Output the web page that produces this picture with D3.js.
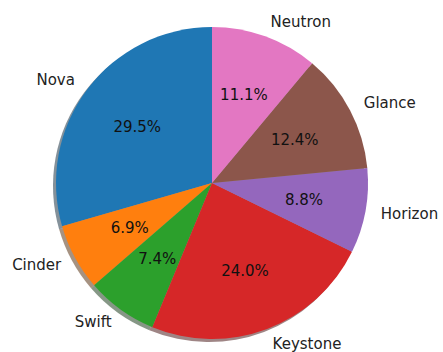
<!DOCTYPE html>
<html>
<head>
<meta charset="utf-8">
<script src="https://cdn.jsdelivr.net/npm/d3@7"></script>
<style>
  html, body { margin: 0; padding: 0; background: #fff; }
  svg { display: block; }
</style>
</head>
<body>
<svg width="443" height="352"></svg>
<script>
const labels = ['Nova', 'Cinder', 'Swift', 'Keystone', 'Horizon', 'Glance', 'Neutron'];
const values = [29.5, 6.9, 7.4, 24.0, 8.8, 12.4, 11.1];
const colors = ['#1f77b4', '#ff7f0e', '#2ca02c', '#d62728', '#9467bd', '#8c564b', '#e377c2'];

const svg = d3.select('svg');
const CX = 212, CY = 183, R = 156;
const FONT = 'DejaVu Sans, sans-serif';

const total = d3.sum(values);
const data = labels.map((l, i) => ({ label: l, value: values[i], color: colors[i] }));

// counterclockwise from the top, like matplotlib startangle=90
const pie = d3.pie().sort(null).value(d => d.value).startAngle(0).endAngle(-2 * Math.PI);
const arcs = pie(data);
const arc = d3.arc().innerRadius(0).outerRadius(R);

const g = svg.append('g').attr('transform', `translate(${CX},${CY})`);

// shadows
g.append('g')
    .attr('transform', 'translate(-3,3)')
    .selectAll('path')
    .data(arcs)
    .join('path')
    .attr('d', arc)
    .style('fill', d => {
        const c = d3.rgb(d.data.color);
        return d3.rgb(c.r * 0.3, c.g * 0.3, c.b * 0.3);
    })
    .style('opacity', 0.5);

// wedges
g.append('g')
    .selectAll('path')
    .data(arcs)
    .join('path')
    .attr('d', arc)
    .style('fill', d => d.data.color);

const mid = d => (d.startAngle + d.endAngle) / 2;

// outer labels
g.append('g')
    .selectAll('text')
    .data(arcs)
    .join('text')
    .attr('x', d => 1.1 * R * Math.sin(mid(d)))
    .attr('y', d => -1.1 * R * Math.cos(mid(d)))
    .attr('dy', '0.35em')
    .style('text-anchor', d => Math.sin(mid(d)) > 0 ? 'start' : 'end')
    .style('font-family', FONT)
    .style('font-size', '15px')
    .style('fill', '#222')
    .text(d => d.data.label);

// percentages
g.append('g')
    .selectAll('text')
    .data(arcs)
    .join('text')
    .attr('x', d => 0.6 * R * Math.sin(mid(d)))
    .attr('y', d => -0.6 * R * Math.cos(mid(d)))
    .attr('dy', '0.35em')
    .style('text-anchor', 'middle')
    .style('font-family', FONT)
    .style('font-size', '15px')
    .style('fill', '#111')
    .text(d => d3.format('.1f')(d.data.value / total * 100) + '%');
</script>
</body>
</html>
